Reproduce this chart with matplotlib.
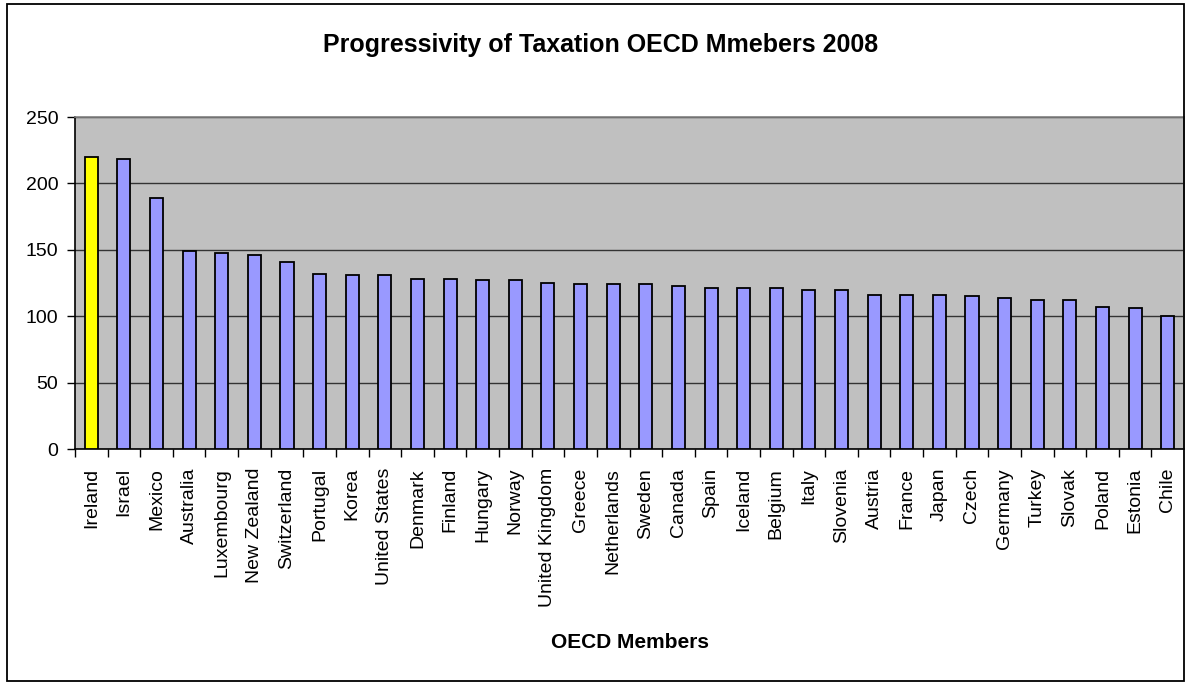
import matplotlib
matplotlib.use("Agg")
import matplotlib.pyplot as plt
from matplotlib.patches import Rectangle

plt.rcParams['font.family'] = ['Liberation Sans', 'DejaVu Sans']

countries = ["Ireland", "Israel", "Mexico", "Australia", "Luxembourg", "New Zealand",
             "Switzerland", "Portugal", "Korea", "United States", "Denmark", "Finland",
             "Hungary", "Norway", "United Kingdom", "Greece", "Netherlands", "Sweden",
             "Canada", "Spain", "Iceland", "Belgium", "Italy", "Slovenia", "Austria",
             "France", "Japan", "Czech", "Germany", "Turkey", "Slovak", "Poland",
             "Estonia", "Chile"]
progressivity = [220, 218, 189, 149, 147.5, 146, 141, 132, 131, 131, 128, 128,
                 127, 127, 125, 124, 124, 124, 123, 121.5, 121.5, 121.5, 120, 120,
                 116, 116, 116, 115, 114, 112, 112, 107, 106, 100]
highlight = "Ireland"
y_ticks = [0, 50, 100, 150, 200, 250]

W, H = 1186, 682
fig = plt.figure(figsize=(W / 100, H / 100), dpi=100)
fig.patch.set_facecolor("white")

# outer chart border
fig.add_artist(Rectangle((7 / W, 1 / H), (1184 - 7) / W, (678 - 1) / H,
                         transform=fig.transFigure, fill=False,
                         edgecolor="black", linewidth=1.3))

left, right, top, bottom = 75, 1184, 117, 449
ax = fig.add_axes([left / W, 1 - bottom / H, (right - left) / W, (bottom - top) / H])
ax.set_facecolor("#C0C0C0")

x = list(range(len(countries)))
colors = ["#FFFF00" if c == highlight else "#9999FF" for c in countries]
ax.bar(x, progressivity, width=0.4, color=colors, edgecolor="black",
       linewidth=1.3, zorder=3)

ax.set_xlim(-0.5, len(countries) - 0.5)
ax.set_ylim(0, 250)
ax.set_yticks(y_ticks)
ax.set_yticklabels([str(v) for v in y_ticks], fontsize=14)
ax.yaxis.grid(True, color="#333333", linewidth=1.0, zorder=1)
ax.set_axisbelow(True)

# category ticks sit on the boundaries between bars
ax.set_xticks([i - 0.5 for i in range(len(countries))])
ax.set_xticklabels([])
ax.tick_params(axis="x", direction="out", length=6, width=1, color="black")
ax.tick_params(axis="y", direction="out", length=6, width=1, color="black", pad=6)
for i, name in enumerate(countries):
    ax.text(i, -0.057, name, transform=ax.get_xaxis_transform(), rotation=90,
            ha="center", va="top", fontsize=14)

ax.spines["left"].set_color("black")
ax.spines["bottom"].set_color("black")
ax.spines["top"].set_color("#808080")
ax.spines["right"].set_color("#808080")
for s in ax.spines.values():
    s.set_linewidth(1.2)

fig.text(601 / W, 1 - 45 / H, "Progressivity of Taxation OECD Mmebers 2008",
         ha="center", va="center", fontsize=18, fontweight="bold")
fig.text(630 / W, 1 - 642 / H, "OECD Members", ha="center", va="center",
         fontsize=15, fontweight="bold")

fig.savefig("out.png", dpi=100, facecolor="white")
